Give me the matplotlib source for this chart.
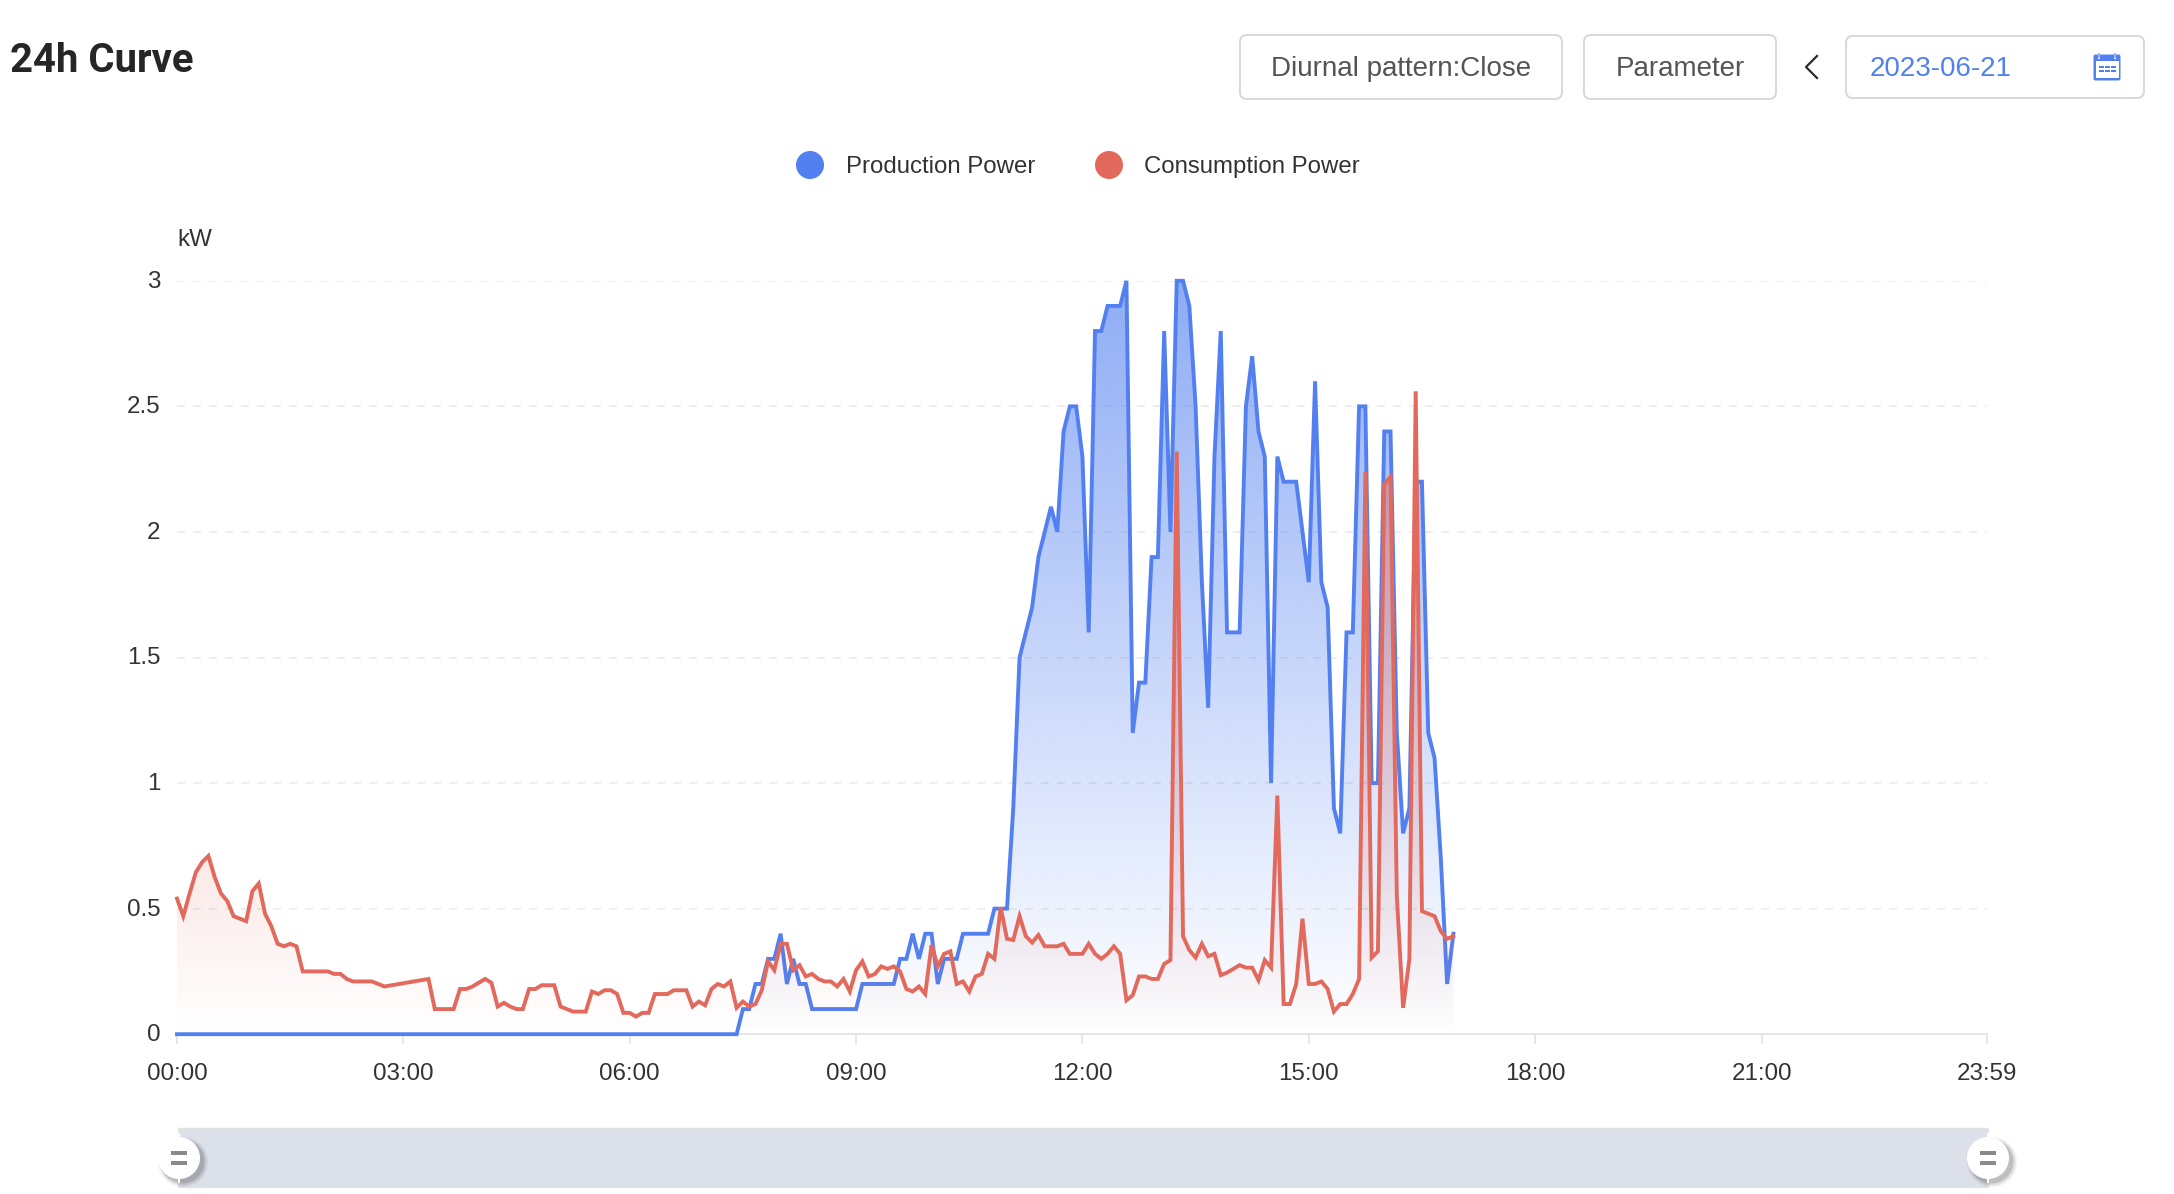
# 24h power curve chart with the page controls around it
import matplotlib
matplotlib.use("Agg")
import matplotlib.pyplot as plt
from matplotlib.patches import Ellipse, FancyBboxPatch, Rectangle
from matplotlib.transforms import ScaledTranslation
import numpy as np

# values every 5 minutes from 00:00 to 16:55, None where the line has no sample
production = [0] * 90 + [
    0.1, 0.1, 0.2, 0.2, 0.3, 0.3, 0.4, 0.2, 0.3, 0.2,
    0.2, 0.1, 0.1, 0.1, 0.1, 0.1, 0.1, 0.1, 0.1, 0.2,
    0.2, 0.2, 0.2, 0.2, 0.2, 0.3, 0.3, 0.4, 0.3, 0.4,
    0.4, 0.2, 0.3, 0.3, 0.3, 0.4, 0.4, 0.4, 0.4, 0.4,
    0.5, 0.5, 0.5, 0.9, 1.5, 1.6, 1.7, 1.9, 2.0, 2.1,
    2.0, 2.4, 2.5, 2.5, 2.3, 1.6, 2.8, 2.8, 2.9, 2.9,
    2.9, 3.0, 1.2, 1.4, 1.4, 1.9, 1.9, 2.8, 2.0, 3.0,
    3.0, 2.9, 2.5, 1.8, 1.3, 2.3, 2.8, 1.6, 1.6, 1.6,
    2.5, 2.7, 2.4, 2.3, 1.0, 2.3, 2.2, 2.2, 2.2, 2.0,
    1.8, 2.6, 1.8, 1.7, 0.9, 0.8, 1.6, 1.6, 2.5, 2.5,
    1.0, 1.0, 2.4, 2.4, 1.2, 0.8, 0.9, 2.2, 2.2, 1.2,
    1.1, 0.7, 0.2, 0.4,
]
consumption = [
    0.54, 0.47, 0.56, 0.645, 0.685, 0.71, 0.625, 0.56, 0.53, 0.47,
    0.46, 0.45, 0.57, 0.6, 0.48, 0.43, 0.36, 0.35, 0.36, 0.35,
    0.25, 0.25, 0.25, 0.25, 0.25, 0.24, 0.24, 0.22, 0.21, 0.21,
    0.21, 0.21, 0.2, 0.19, None, None, None, None, None, None,
    0.22, 0.1, 0.1, 0.1, 0.1, 0.18, 0.18, 0.19, 0.205, 0.22,
    0.205, 0.11, 0.125, 0.11, 0.1, 0.1, 0.18, 0.18, 0.195, 0.195,
    0.195, 0.11, 0.1, 0.09, 0.09, 0.09, 0.17, 0.16, 0.175, 0.175,
    0.16, 0.085, 0.085, 0.07, 0.085, 0.085, 0.16, 0.16, 0.16, 0.175,
    0.175, 0.175, 0.11, 0.13, 0.115, 0.18, 0.2, 0.19, 0.21, 0.105,
    0.13, 0.11, 0.12, 0.175, 0.29, 0.255, 0.36, 0.36, 0.255, 0.275,
    0.23, 0.24, 0.22, 0.21, 0.21, 0.19, 0.22, 0.17, 0.255, 0.29,
    0.23, 0.24, 0.27, 0.26, 0.27, 0.25, 0.18, 0.17, 0.19, 0.16,
    0.355, 0.27, 0.32, 0.33, 0.2, 0.21, 0.17, 0.23, 0.24, 0.32,
    0.3, 0.505, 0.38, 0.375, 0.47, 0.39, 0.365, 0.395, 0.35, 0.35,
    0.35, 0.36, 0.32, 0.32, 0.32, 0.36, 0.32, 0.3, 0.32, 0.35,
    0.32, 0.135, 0.155, 0.23, 0.23, 0.22, 0.22, 0.28, 0.295, 2.32,
    0.39, 0.335, 0.305, 0.36, 0.31, 0.32, 0.235, 0.245, 0.26, 0.275,
    0.265, 0.265, 0.215, 0.295, 0.265, 0.95, 0.12, 0.12, 0.2, 0.46,
    0.2, 0.2, 0.21, 0.18, 0.09, 0.12, 0.12, 0.16, 0.22, 2.24,
    0.305, 0.33, 2.19, 2.22, 0.55, 0.105, 0.3, 2.56, 0.49, 0.48,
    0.47, 0.41, 0.38, 0.39,
]
tick_minutes = [0, 180, 360, 540, 720, 900, 1080, 1260, 1439]
tick_labels = ["00:00", "03:00", "06:00", "09:00", "12:00", "15:00", "18:00", "21:00", "23:59"]
y_ticks = [0, 0.5, 1, 1.5, 2, 2.5, 3]
y_labels = ["0", "0.5", "1", "1.5", "2", "2.5", "3"]

BLUE = "#5280F0"
RED = "#E2695C"
TEXT = "#333333"
W, H = 2174, 1194
UI_FONT = "Liberation Sans"

fig = plt.figure(figsize=(W / 100, H / 100), dpi=100, facecolor="white")

# chart area, placed by pixels
left, right, y_zero, y_top = 177, 1986.6, 1034.2, 280.8
ax = fig.add_axes([left / W, 1 - y_zero / H, (right - left) / W, (y_zero - y_top) / H])
ax.set_facecolor("none")
ax.set_xlim(0, 1439)
ax.set_ylim(0, 3)


def draw_series(values, color, top_alpha, z):
    y = np.array(values, dtype=float)
    x = np.arange(len(y)) * 5.0
    keep = ~np.isnan(y)
    x, y = x[keep], y[keep]
    y_max = y.max()
    # vertical gradient clipped to the area under the line
    rgba = np.zeros((256, 2, 4))
    rgba[..., :3] = matplotlib.colors.to_rgb(color)
    rgba[..., 3] = np.linspace(top_alpha, 0, 256)[:, None]
    im = ax.imshow(rgba, extent=(x[0], x[-1], 0, y_max), aspect="auto", origin="upper", zorder=z, interpolation="bilinear")
    area = ax.fill_between(x, 0, y, facecolor="none", edgecolor="none")
    im.set_clip_path(area.get_paths()[0], ax.transData)
    area.remove()
    ax.plot(x, y, color=color, lw=2.8, zorder=z + 0.5, clip_on=False, solid_joinstyle="miter")


draw_series(production, BLUE, 0.65, 3)
draw_series(consumption, RED, 0.55, 4)
ax.set_xlim(0, 1439)
ax.set_ylim(0, 3)

for v in y_ticks[1:]:
    ax.axhline(v, color="#EEEEEE", lw=1.44, ls=(0, (4, 4)), zorder=1)

for s in ["top", "left", "right"]:
    ax.spines[s].set_visible(False)
ax.spines["bottom"].set_color("#E6E6E6")
ax.spines["bottom"].set_linewidth(1.44)
ax.set_xticks(tick_minutes, tick_labels)
ax.set_yticks(y_ticks, y_labels)
ax.tick_params(axis="x", length=7.2, width=1.44, color="#E6E6E6", pad=13.5, labelsize=17.4, labelcolor=TEXT)
ax.tick_params(axis="y", length=0, pad=12, labelsize=17.4, labelcolor=TEXT)
for lab in ax.get_xticklabels() + ax.get_yticklabels():
    lab.set_fontfamily(UI_FONT)
# y labels sit a little above their gridline
nudge = ScaledTranslation(0, 1.5 / 100, fig.dpi_scale_trans)
for tick in ax.yaxis.get_major_ticks():
    tick.label1.set_transform(tick.label1.get_transform() + nudge)

# page controls, in pixel coordinates with y going down
ui = fig.add_axes([0, 0, 1, 1], facecolor="none")
ui.set_xlim(0, W)
ui.set_ylim(H, 0)
ui.axis("off")

ui.text(10, 57, "24h Curve", family="Roboto", weight="bold", fontsize=28.9, color="#262626", va="center_baseline", ha="left")
ui.text(177, 239.5, "kW", family=UI_FONT, fontsize=17.4, color=TEXT, va="center", ha="left")


def button(x0, x1, y0, y1):
    ui.add_patch(FancyBboxPatch((x0 + 6, y0 + 6), x1 - x0 - 12, y1 - y0 - 12, boxstyle="round,pad=6,rounding_size=7",
                                facecolor="white", edgecolor="#D9D9D9", lw=1.44))


button(1240, 1562, 35, 99)
button(1584, 1776, 35, 99)
button(1846, 2144, 36, 98)
ui.text(1401, 68.5, "Diurnal pattern:Close", family=UI_FONT, fontsize=20, color="#555555", ha="center", va="center")
ui.text(1680, 68.5, "Parameter", family=UI_FONT, fontsize=20, color="#555555", ha="center", va="center")
ui.text(1870, 68.5, "2023-06-21", family=UI_FONT, fontsize=20, color=BLUE, ha="left", va="center")
ui.plot([1817, 1806, 1817], [56, 67, 78], color="#2B2B33", lw=1.6)

# calendar icon
ui.add_patch(FancyBboxPatch((2095, 56), 24, 23, boxstyle="round,pad=1.5,rounding_size=2", facecolor=BLUE, edgecolor="none"))
ui.add_patch(Rectangle((2095.5, 61), 23, 17, facecolor="white", edgecolor="none"))
for rx in [2099, 2115]:
    ui.add_patch(Rectangle((rx - 1, 52.5), 2, 6, facecolor="white", edgecolor="none", zorder=3))
    ui.add_patch(Rectangle((rx - 0.7, 53), 1.4, 5, facecolor="#9DB6F5", edgecolor="none", zorder=3))
for ry in [67, 71]:
    for rx in [2101, 2107, 2113]:
        ui.add_patch(Rectangle((rx - 2.5, ry - 1), 5, 2, facecolor=BLUE, edgecolor="none"))

# legend
for cx, label_x, color, label in [(810, 846, BLUE, "Production Power"), (1109, 1144, RED, "Consumption Power")]:
    ui.add_patch(Ellipse((cx, 165), 28, 28, facecolor=color, edgecolor="none"))
    ui.text(label_x, 167, label, family=UI_FONT, fontsize=17.3, color=TEXT, ha="left", va="center")

# range slider under the chart
ui.add_patch(Rectangle((178, 1128), 1810, 59, facecolor="#DCE0E9", edgecolor="#E3E3E3", lw=1))
for hx in [179, 1988]:
    for off, size, alpha in [(4, 50, 0.06), (4, 47, 0.1), (3.5, 44, 0.18)]:
        ui.add_patch(Ellipse((hx + off, 1158 + off), size, size, facecolor="#333333", edgecolor="none", alpha=alpha))
    ui.add_patch(Ellipse((hx, 1158), 42, 42, facecolor="white", edgecolor="none"))
    ui.add_patch(Rectangle((hx - 1, 1133), 2, 50, facecolor="white", edgecolor="none"))
    for ry in [1153, 1163]:
        ui.add_patch(Rectangle((hx - 8, ry - 2), 16, 4, facecolor="#8A8A8A", edgecolor="none"))

fig.savefig("out.png", dpi=100, facecolor="white")
